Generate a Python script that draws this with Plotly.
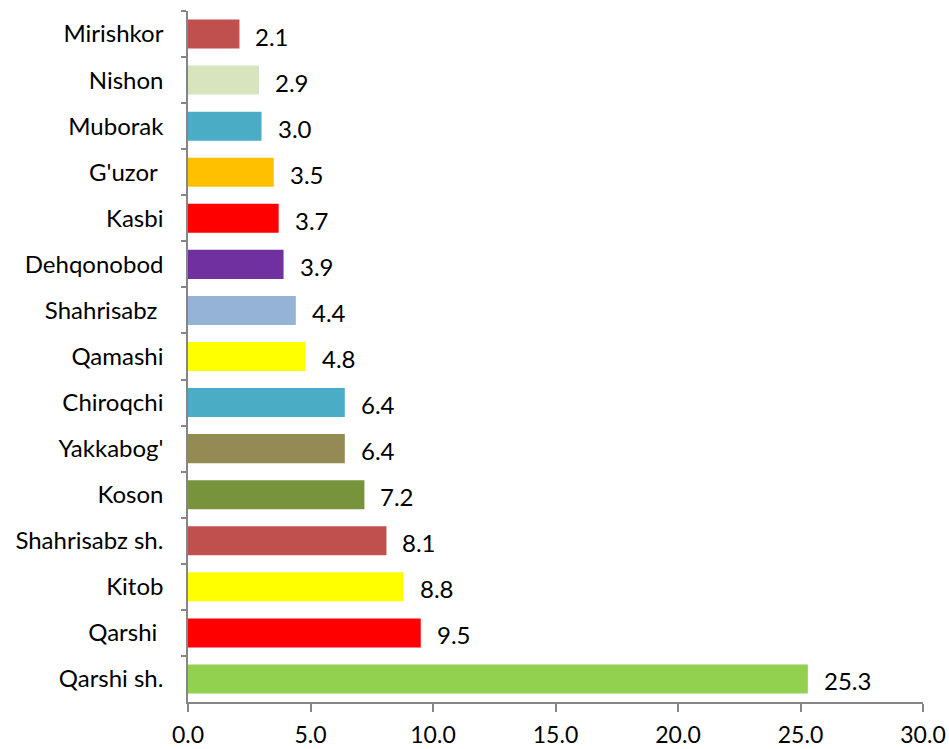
import plotly.graph_objects as go

categories = ["Mirishkor", "Nishon", "Muborak", "G'uzor ", "Kasbi", "Dehqonobod",
              "Shahrisabz ", "Qamashi", "Chiroqchi", "Yakkabog'", "Koson",
              "Shahrisabz sh.", "Kitob", "Qarshi ", "Qarshi sh."]
values = [2.1, 2.9, 3.0, 3.5, 3.7, 3.9, 4.4, 4.8, 6.4, 6.4, 7.2, 8.1, 8.8, 9.5, 25.3]
colors = ["#C0504D", "#D7E4BD", "#4BACC6", "#FFC000", "#FF0000", "#7030A0",
          "#95B3D7", "#FFFF00", "#4BACC6", "#948A54", "#77933C", "#C0504D",
          "#FFFF00", "#FF0000", "#92D050"]
x_ticks = [0, 5, 10, 15, 20, 25, 30]
x_tick_labels = ["0.0", "5.0", "10.0", "15.0", "20.0", "25.0", "30.0"]

FONT = "Lato, Open Sans, sans-serif"
FS = 24

fig = go.Figure(go.Bar(
    x=values, y=categories, orientation="h",
    marker=dict(color=colors, line=dict(width=0)),
    width=0.63,
    hoverinfo="x+y",
))

for v, c in zip(values, categories):
    fig.add_annotation(x=v, y=c, text=f"{v:.1f}", showarrow=False,
                       xanchor="left", yanchor="middle", xshift=14, yshift=-2,
                       font=dict(family=FONT, size=FS, color="black"))

fig.update_layout(
    width=949, height=749,
    margin=dict(l=188, r=26, t=11, b=47, autoexpand=False),
    plot_bgcolor="white", paper_bgcolor="white",
    showlegend=False,
    font=dict(family=FONT, size=FS, color="black"),
    xaxis=dict(range=[0, 30], tickvals=x_ticks, ticktext=x_tick_labels,
               showgrid=False, zeroline=False, showline=True,
               linecolor="#868686", linewidth=1.5, ticks="outside",
               ticklen=8, tickcolor="#868686", tickwidth=1.5,
               ticklabelstandoff=4, automargin=False,
               tickfont=dict(family=FONT, size=23)),
    yaxis=dict(autorange="reversed", type="category", showgrid=False,
               showline=True, linecolor="#868686", linewidth=1.5,
               ticks="outside", ticklen=5, tickcolor="#868686", tickwidth=1.5,
               tickson="boundaries", ticklabelstandoff=18, automargin=False,
               tickfont=dict(family=FONT, size=FS)),
)

fig.write_html("out.html", config={"displayModeBar": False},
               post_script="document.body.style.margin='0';document.body.style.overflow='hidden';")
